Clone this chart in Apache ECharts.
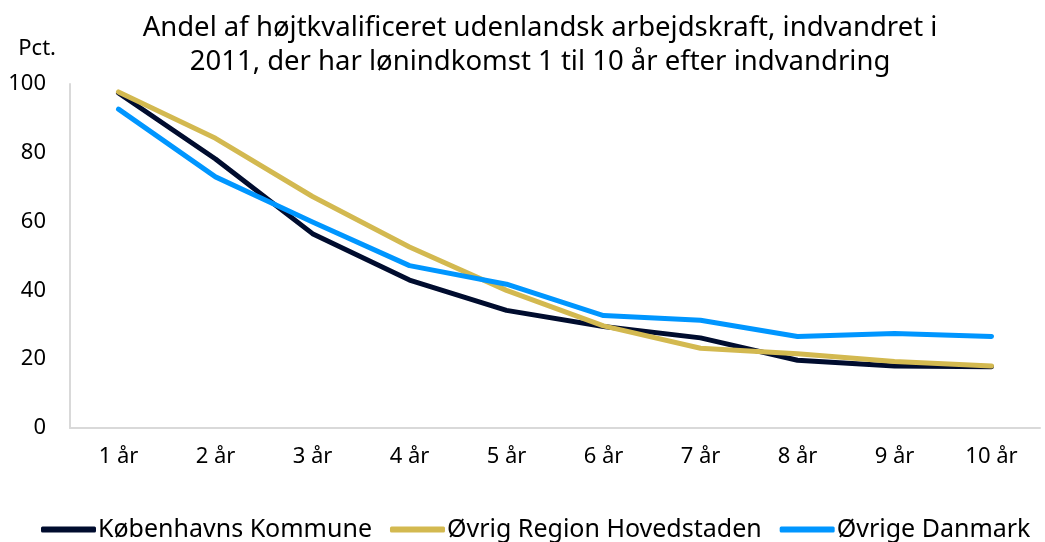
<!DOCTYPE html>
<html>
<head>
<meta charset="utf-8">
<script src="https://cdn.jsdelivr.net/npm/echarts@6/dist/echarts.min.js"></script>
<style>
    html, body { margin: 0; padding: 0; background: #fff; }
    #chart { width: 1045px; height: 542px; }
</style>
</head>
<body>
<div id="chart"></div>
<script>
const categories = ["1 år", "2 år", "3 år", "4 år", "5 år", "6 år", "7 år", "8 år", "9 år", "10 år"];
const koebenhavn = [97.4, 78.2, 56.5, 43.0, 34.2, 29.5, 26.2, 19.7, 18.0, 17.8];
const oevrigRegion = [97.7, 84.2, 67.3, 52.6, 40.0, 29.7, 23.2, 21.6, 19.3, 18.0];
const oevrigeDanmark = [92.7, 73.0, 59.9, 47.2, 41.8, 32.7, 31.3, 26.6, 27.5, 26.6];
const yTicks = [0, 20, 40, 60, 80, 100];

const font = "'Noto Sans', sans-serif";
const colors = {
    navy: "#000c2e",
    gold: "#d3b950",
    blue: "#0096ff",
    axis: "#d9d9d9"
};

const chart = echarts.init(document.getElementById("chart"));

function lineSeries(name, data, color) {
    return {
        name,
        type: "line",
        data,
        symbol: "none",
        smooth: false,
        lineStyle: {
            color,
            width: 5,
            cap: "round",
            join: "round"
        },
        itemStyle: { color }
    };
}

chart.setOption({
    animation: false,
    textStyle: { fontFamily: font },
    title: {
        text: "Andel af højtkvalificeret udenlandsk arbejdskraft, indvandret i\n2011, der har lønindkomst 1 til 10 år efter indvandring",
        left: 535,
        textAlign: "center",
        top: 6,
        textStyle: {
            fontFamily: font,
            fontSize: 27.5,
            fontWeight: "normal",
            color: "#000",
            lineHeight: 34
        }
    },
    grid: {
        left: 70,
        right: 5,
        top: 84,
        bottom: 114,
        containLabel: false
    },
    legend: {
        bottom: 0,
        left: 41,
        padding: 0,
        icon: "roundRect",
        itemWidth: 55,
        itemHeight: 6,
        itemGap: 18,
        textStyle: {
            fontFamily: font,
            fontSize: 25,
            color: "#000",
            padding: [0, 0, 0, -3]
        },
        data: ["Københavns Kommune", "Øvrig Region Hovedstaden", "Øvrige Danmark"]
    },
    xAxis: {
        type: "category",
        data: categories,
        boundaryGap: true,
        axisLine: { lineStyle: { color: colors.axis, width: 2 } },
        axisTick: { show: false },
        axisLabel: {
            color: "#000",
            fontSize: 22,
            margin: 18
        }
    },
    yAxis: {
        type: "value",
        min: yTicks[0],
        max: yTicks[yTicks.length - 1],
        interval: 20,
        name: "Pct.",
        nameLocation: "end",
        nameGap: 24,
        nameTextStyle: {
            color: "#000",
            fontSize: 22,
            align: "right",
            padding: [0, 14, 0, 0]
        },
        axisLine: { show: true, lineStyle: { color: colors.axis, width: 2 } },
        axisTick: { show: false },
        splitLine: { show: false },
        axisLabel: {
            color: "#000",
            fontSize: 22,
            margin: 24
        }
    },
    series: [
        lineSeries("Københavns Kommune", koebenhavn, colors.navy),
        lineSeries("Øvrig Region Hovedstaden", oevrigRegion, colors.gold),
        lineSeries("Øvrige Danmark", oevrigeDanmark, colors.blue)
    ]
});
</script>
</body>
</html>
